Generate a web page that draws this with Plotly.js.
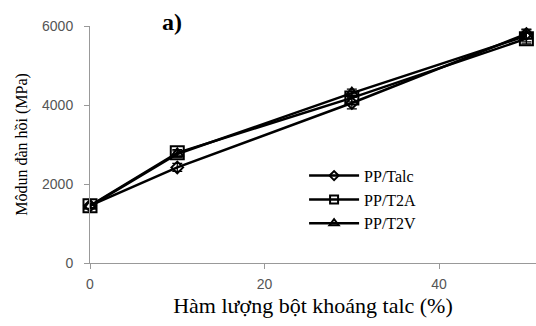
<!DOCTYPE html>
<html><head><meta charset="utf-8">
<script src="https://cdn.plot.ly/plotly-3.0.1.min.js"></script>
<style>html,body{margin:0;padding:0;background:#fff}#chart{width:536px;height:326px}</style>
</head><body><div id="chart"></div>
<script>
var talcContent = [0, 10, 30, 50];
var seriesNames = ["PP/Talc", "PP/T2A", "PP/T2V"];
var ppTalc = [1450, 2420, 4050, 5800];
var ppT2A = [1450, 2790, 4180, 5680];
var ppT2V = [1440, 2760, 4300, 5750];
var errTalc = [60, 100, 150, 120];
var errT2A = [50, 80, 100, 130];
var errT2V = [50, 80, 100, 150];
var xTicks = [0, 20, 40];
var yTicks = [0, 2000, 4000, 6000];

var symbols = ["diamond-open", "square-open", "triangle-up-open"];
var sizes = [9, 13, 11];
var legSizes = [7, 8, 8];
var vals = [ppTalc, ppT2A, ppT2V];
var errs = [errTalc, errT2A, errT2V];
var traces = vals.map(function(v, i){
  return {
    x: talcContent, y: v, name: seriesNames[i], type: "scatter", mode: "lines+markers",
    showlegend: false,
    line: {color: "#000", width: 2.5},
    marker: {symbol: symbols[i], size: sizes[i], color: "#000", line: {color: "#000", width: 2}},
    error_y: {type: "data", array: errs[i], visible: true, color: "#000", thickness: 1.2, width: 5},
    cliponaxis: false
  };
});
seriesNames.forEach(function(n, i){
  traces.push({x: [null], y: [null], name: n, type: "scatter", mode: "lines+markers",
    line: {color: "#000", width: 2.5},
    marker: {symbol: symbols[i], size: legSizes[i], color: "#000", line: {color: "#000", width: 2}}});
});
var layout = {
  width: 536, height: 326,
  margin: {l: 90, r: 0, t: 26, b: 63},
  paper_bgcolor: "#fff", plot_bgcolor: "#fff",
  showlegend: true,
  legend: {x: 0.48, y: 0.44, xanchor: "left", yanchor: "top", bgcolor: "rgba(0,0,0,0)",
    font: {family: "Liberation Serif, Times New Roman, serif", size: 16, color: "#000"},
    tracegroupgap: 0, itemwidth: 50},
  xaxis: {range: [0, 51.1], tickvals: xTicks, showgrid: false, zeroline: false,
    showline: true, linecolor: "#999", linewidth: 1, ticks: "outside", ticklen: 5, tickcolor: "#999",
    ticklabelstandoff: 3,
    tickfont: {family: "Liberation Sans, Arial, sans-serif", size: 14, color: "#555"},
    title: {text: "Hàm lượng bột khoáng talc (%)", font: {family: "Liberation Serif, Times New Roman, serif", size: 22, color: "#000"}, standoff: 6}},
  yaxis: {range: [0, 6000], tickvals: yTicks, showgrid: false, zeroline: false,
    showline: true, linecolor: "#999", linewidth: 1, ticks: "outside", ticklen: 5, tickcolor: "#999",
    ticklabelstandoff: 8,
    tickfont: {family: "Liberation Sans, Arial, sans-serif", size: 14, color: "#555"},
    title: {text: "Môdun đàn hồi (MPa)", font: {family: "Liberation Serif, Times New Roman, serif", size: 16, color: "#000"}, standoff: 10}},
  annotations: [{text: "<b>a)</b>", x: 0, y: 0, xref: "paper", yref: "paper", showarrow: false,
    xanchor: "center", yanchor: "middle",
    font: {family: "Liberation Serif, Times New Roman, serif", size: 24, color: "#000"}}]
};
layout.annotations[0].x = (172 - 90) / 446;
layout.annotations[0].y = (263 - 22) / 237;
Plotly.newPlot("chart", traces, layout, {displayModeBar: false, staticPlot: true});
</script></body></html>
